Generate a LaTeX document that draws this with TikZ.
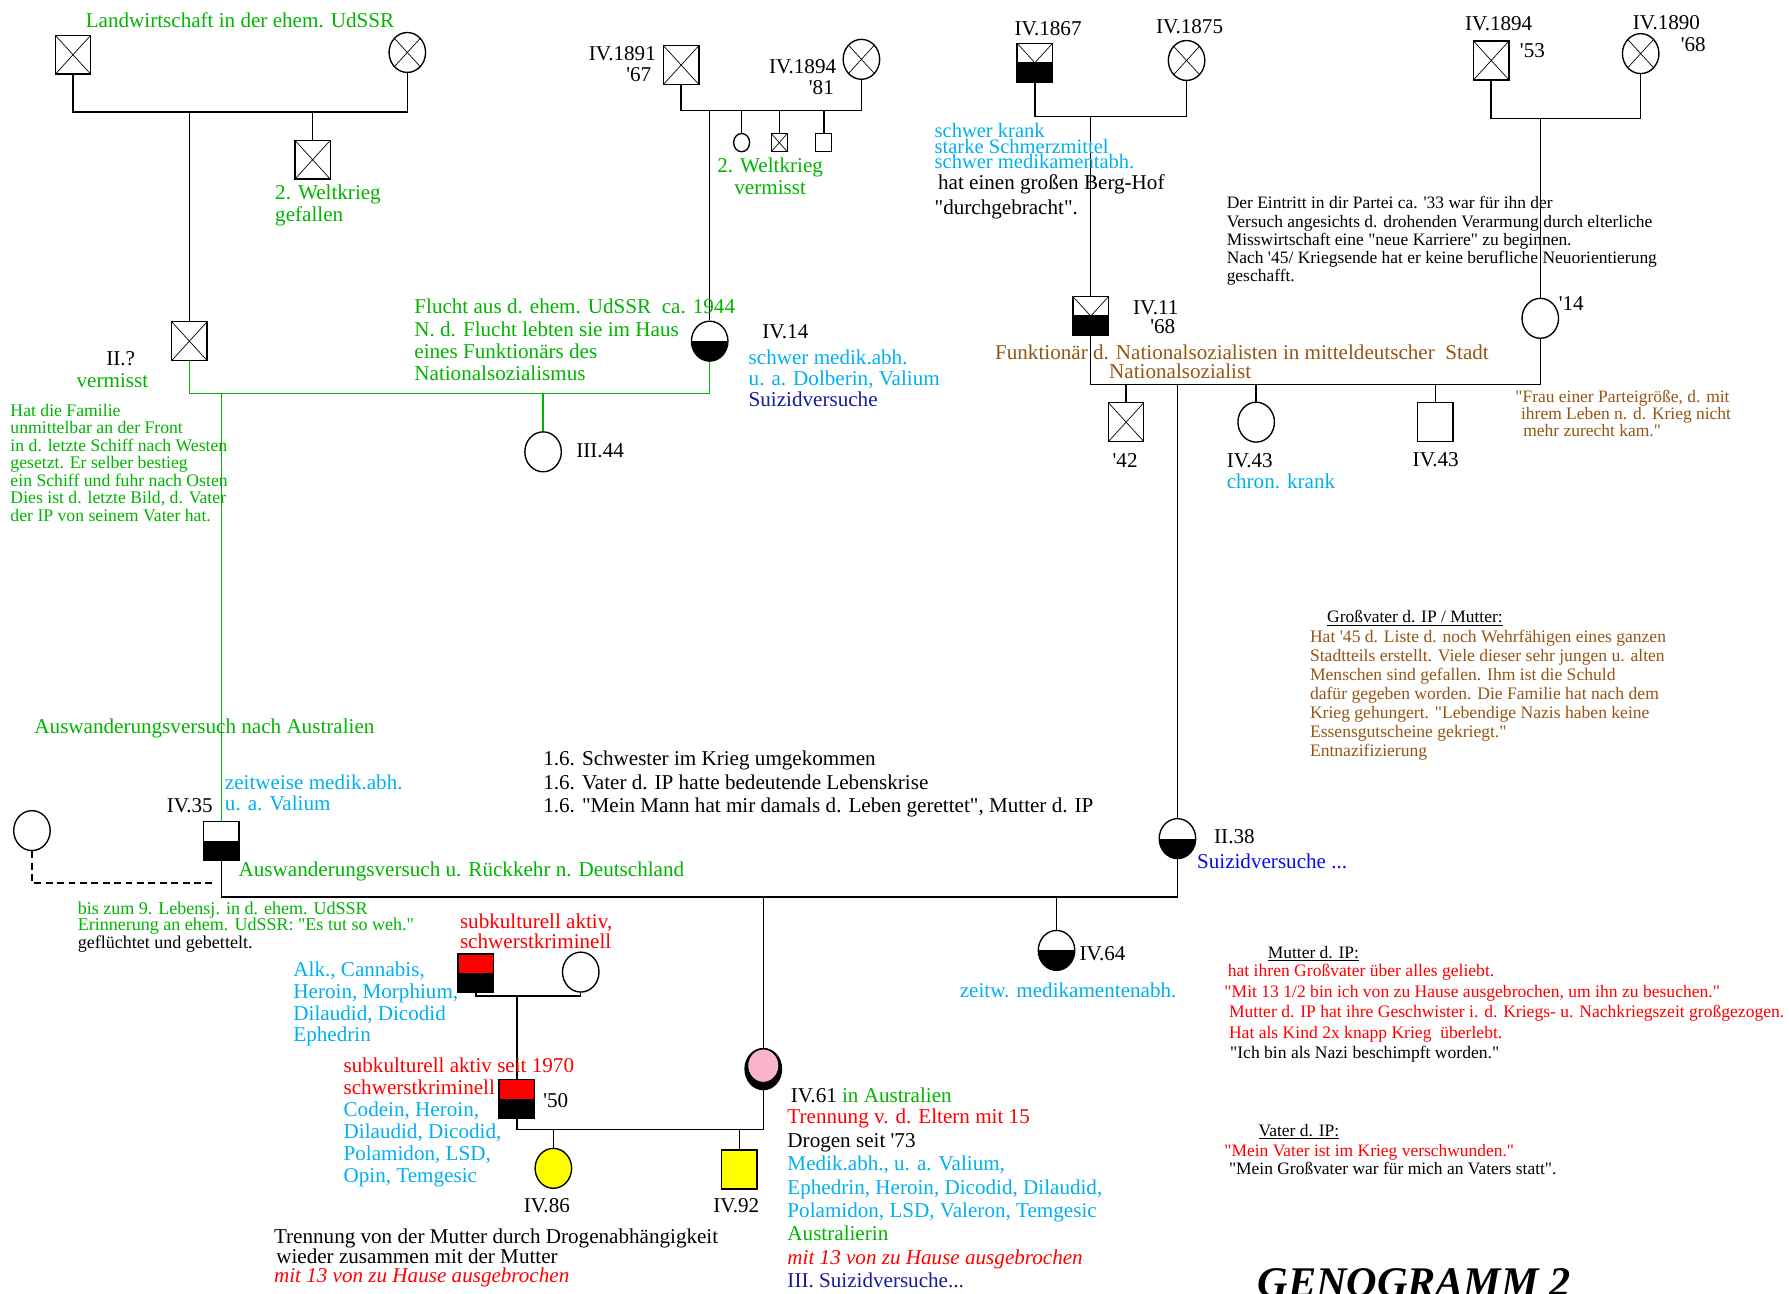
\documentclass[tikz,border=0pt]{standalone}
\usepackage{fontspec}
\setmainfont{Liberation Serif}[Ligatures=TeXOff]
\usetikzlibrary{shapes.geometric}

\definecolor{gruen}{RGB}{0,180,0}
\definecolor{hblau}{RGB}{0,176,240}
\definecolor{dblau}{RGB}{25,25,160}
\definecolor{blau}{RGB}{10,10,235}
\definecolor{braun}{RGB}{150,85,20}
\definecolor{rosa}{RGB}{250,180,205}
\definecolor{gelb}{RGB}{255,255,0}

\tikzset{
  person/.style={draw=black, line width=1.2pt, inner sep=0pt},
  mann/.style={person, rectangle, minimum width=31pt, minimum height=34pt},
  frau/.style={person, ellipse, minimum width=32pt, minimum height=35pt},
  klein/.style={minimum width=14pt, minimum height=16pt},
  tot/.style={path picture={
      \draw[line width=0.6pt] (path picture bounding box.north west) -- (path picture bounding box.south east)
        (path picture bounding box.north east) -- (path picture bounding box.south west);}},
  halb/.style={path picture={
      \fill (path picture bounding box.west) rectangle (path picture bounding box.south east);}},
  tothalb/.style={path picture={
      \draw[line width=0.6pt] (path picture bounding box.north west) -- (path picture bounding box.south east)
        (path picture bounding box.north east) -- (path picture bounding box.south west);
      \fill ([yshift=1pt]path picture bounding box.west) rectangle (path picture bounding box.south east);}},
  rotschwarz/.style={path picture={
      \fill[red] (path picture bounding box.north west) rectangle (path picture bounding box.east);
      \fill (path picture bounding box.west) rectangle (path picture bounding box.south east);}},
  linie/.style={line width=1.3pt},
  gruenlinie/.style={line width=1.3pt, gruen},
  lbl/.style={inner sep=0pt, anchor=base west, font=\fontsize{18.5}{19}\selectfont},
  blk/.style={inner sep=0pt, anchor=north west, align=left, font=\fontsize{18.5}{19.5}\selectfont},
  notiz/.style={inner sep=0pt, anchor=north west, align=left, font=\fontsize{15.3}{16}\selectfont},
}

\begin{document}
\begin{tikzpicture}[x=1pt,y=-1pt]
\useasboundingbox[fill=white] (0,0) rectangle (1568,1134);

% Generation oben links
\node[mann,tot] (gvA) at (64,48) {};
\node[frau,tot] (gmA) at (357,46) {};
\node[mann,tot] (onkel) at (274,140) {};
\node[mann,tot] (vaterIP) at (166,299) {};
\coordinate (ehA) at (166,98);
\coordinate (kA) at (274,98);
\draw[linie] (gvA.south) |- (ehA) -| (gmA.south);
\draw[linie] (ehA) -- (vaterIP.north);
\draw[linie] (kA) -- (onkel.north);

% IV.1891 / IV.1894
\node[mann,tot] (gvB) at (597,57) {};
\node[frau,tot] (gmB) at (755,52) {};
\node[frau,halb] (iv14) at (622,299) {};
\node[person,ellipse,klein] (kB1) at (650,125) {};
\node[person,rectangle,klein,tot] (kB2) at (683,125) {};
\node[person,rectangle,klein] (kB3) at (722,125) {};
\coordinate (ehB) at (622,97);
\draw[linie] (gvB.south) |- (ehB) -| (gmB.south);
\draw[linie] (ehB) -- (iv14.north);
\foreach \k in {kB1,kB2,kB3}
  \draw[linie] (\k.north) -- (\k.north |- ehB);

% Ehe II.? / IV.14
\node[frau] (iii44) at (476,396) {};
\node[mann,halb] (iv35) at (194,737) {};
\coordinate (ehC) at (194,345);
\draw[gruenlinie] (vaterIP.south) |- (ehC) -| (iv14.south);
\draw[gruenlinie] (ehC) -- (iv35.north);
\draw[gruenlinie] (iii44.north) -- (iii44.north |- ehC);

% IV.1867 / IV.1875
\node[mann,tothalb] (gvD) at (907,55) {};
\node[frau,tot] (gmD) at (1040,53) {};
\node[mann,tothalb] (iv11) at (956,277) {};
\coordinate (ehD) at (956,102);
\draw[linie] (gvD.south) |- (ehD) -| (gmD.south);
\draw[linie] (ehD) -- (iv11.north);

% IV.1894 / IV.1890
\node[mann,tot] (gvE) at (1307,53) {};
\node[frau,tot] (gmE) at (1438,47) {};
\node[frau] (fr14) at (1350,279) {};
\coordinate (ehE) at (1350,104);
\draw[linie] (gvE.south) |- (ehE) -| (gmE.south);
\draw[linie] (ehE) -- (fr14.north);

% Ehe IV.11 / '14
\node[mann,tot] (k42) at (987,370) {};
\node[frau] (k43a) at (1101,370) {};
\node[mann] (k43b) at (1258,370) {};
\node[frau,halb] (ii38) at (1032,735) {};
\coordinate (ehF) at (1032,337);
\draw[linie] (iv11.south) |- (ehF) -| (fr14.south);
\draw[linie] (ehF) -- (ii38.north);
\foreach \k in {k42,k43a,k43b}
  \draw[linie] (\k.north) -- (\k.north |- ehF);

% Ehe IV.35 / II.38
\node[frau] (exfrau) at (28,728) {};
\coordinate (exende) at (188,774);
\draw[line width=1.2pt,dash pattern=on 6pt off 4pt] (exfrau.south) |- (exende);
\node[frau,halb] (iv64) at (926,833) {};
\node[person,ellipse,fill=black,minimum width=32pt,minimum height=36pt] (iv61) at (669,937) {};
\node[draw=black,line width=0.6pt,ellipse,fill=rosa,inner sep=0pt,minimum width=27pt,minimum height=29pt] (iv61i) at (669,934) {};
\coordinate (ehG) at (669,786);
\draw[linie] (iv35.south) |- (ehG) -| (ii38.south);
\draw[linie] (ehG) -- (iv61.north);
\draw[linie] (iv64.north) -- (iv64.north |- ehG);

% subkulturell
\node[mann,rotschwarz] (sub1) at (417,853) {};
\node[frau] (sub1f) at (509,852) {};
\node[mann,rotschwarz] (sub2) at (453,963) {};
\coordinate (ehH) at (453,873);
\draw[linie] (sub1.south) |- (ehH) -| (sub1f.south);
\draw[linie] (ehH) -- (sub2.north);
\node[frau,fill=gelb] (iv86) at (485,1024) {};
\node[mann,fill=gelb] (iv92) at (648,1025) {};
\coordinate (ehI) at (485,990);
\draw[linie] (sub2.south) |- (ehI) -| (iv61.south);
\draw[linie] (ehI) -- (iv86.north);
\draw[linie] (iv92.north) -- (iv92.north |- ehI);

% Beschriftungen
\node[lbl,gruen] (tLand) at (75,24) {Landwirtschaft in der ehem. UdSSR};
\node[blk,gruen,font=\fontsize{18.5}{19}\selectfont] (tWk1) at (241,162) {2. Weltkrieg\\ gefallen};
\node[lbl] (tII) at (93,320) {II.?};
\node[lbl,gruen] (tVerm) at (67,340) {vermisst};
\node[notiz,gruen,font=\fontsize{15.5}{15.3}\selectfont] (tFam) at (9,354) {Hat die Familie\\unmittelbar an der Front\\in d. letzte Schiff nach Westen\\gesetzt. Er selber bestieg\\ein Schiff und fuhr nach Osten\\Dies ist d. letzte Bild, d. Vater\\der IP von seinem Vater hat.};

\node[lbl,anchor=base east] (t1891) at (575,53) {IV.1891};
\node[lbl,anchor=base east] (t67) at (571,71) {'67};
\node[lbl,anchor=base east] (t1894) at (733,64) {IV.1894};
\node[lbl,anchor=base east] (t81) at (731,83) {'81};
\node[blk,gruen,anchor=north,align=center,font=\fontsize{18.5}{19}\selectfont] (tWk2) at (675,138) {2. Weltkrieg\\ vermisst};
\node[blk,gruen] (tFlucht) at (363,262) {Flucht aus d. ehem. UdSSR~~ca. 1944\\N. d. Flucht lebten sie im Haus\\eines Funktionärs des\\Nationalsozialismus};
\node[lbl] (tiv14) at (668,297) {IV.14};
\node[blk,hblau,font=\fontsize{18.5}{18.5}\selectfont] (tiv14b) at (656,306) {schwer medik.abh.\\u. a. Dolberin, Valium\\\textcolor{dblau}{Suizidversuche}};
\node[lbl] (tiii44) at (505,401) {III.44};

\node[lbl] (t1867) at (889,31) {IV.1867};
\node[lbl] (t1875) at (1013,29) {IV.1875};
\node[blk,hblau,font=\fontsize{18}{12}\selectfont] (tkrank) at (819,108) {schwer krank\\starke Schmerzmittel\\schwer medikamentabh.};
\node[lbl] (tBerg) at (822,166) {hat einen großen Berg-Hof};
\node[lbl] (tdurch) at (819,188) {"durchgebracht".};
\node[lbl] (tiv11) at (993,276) {IV.11};
\node[lbl] (t68a) at (1008,292) {'68};
\node[lbl,braun] (tFunk) at (872,315) {Funktionär d. Nationalsozialisten in mitteldeutscher~~Stadt};
\node[lbl,braun] (tNS) at (972,332) {Nationalsozialist};

\node[lbl] (t1894b) at (1284,27) {IV.1894};
\node[lbl] (t53) at (1332,50) {'53};
\node[lbl] (t1890) at (1431,26) {IV.1890};
\node[lbl] (t68b) at (1473,45) {'68};
\node[notiz] (tPartei) at (1075,172) {Der Eintritt in dir Partei ca. '33 war für ihn der\\Versuch angesichts d. drohenden Verarmung durch elterliche\\Misswirtschaft eine "neue Karriere" zu beginnen.\\Nach '45/ Kriegsende hat er keine berufliche Neuorientierung\\geschafft.};
\node[lbl] (t14) at (1366,272) {'14};
\node[notiz,braun,font=\fontsize{15.3}{13}\selectfont] (tFrau) at (1328,342) {"Frau einer Parteigröße, d. mit\\\hspace*{5pt}ihrem Leben n. d. Krieg nicht\\\hspace*{7pt}mehr zurecht kam."};
\node[lbl] (t42) at (975,410) {'42};
\node[lbl] (t43a) at (1075,410) {IV.43};
\node[lbl,hblau] (tchron) at (1075,428) {chron. krank};
\node[lbl] (t43b) at (1238,409) {IV.43};

\node[lbl,font=\fontsize{15.3}{16}\selectfont] (tGvH) at (1163,546) {\underline{Großvater d. IP / Mutter:}};
\node[notiz,braun,font=\fontsize{15.4}{16.7}\selectfont] (tGv) at (1148,552) {Hat '45 d. Liste d. noch Wehrfähigen eines ganzen\\Stadtteils erstellt. Viele dieser sehr jungen u. alten\\Menschen sind gefallen. Ihm ist die Schuld\\dafür gegeben worden. Die Familie hat nach dem\\Krieg gehungert. "Lebendige Nazis haben keine\\Essensgutscheine gekriegt."\\Entnazifizierung};

\node[lbl,gruen] (tAus1) at (30,643) {Auswanderungsversuch nach Australien};
\node[blk,font=\fontsize{18.5}{20.5}\selectfont] (t16) at (476,658) {1.6. Schwester im Krieg umgekommen\\1.6. Vater d. IP hatte bedeutende Lebenskrise\\1.6. "Mein Mann hat mir damals d. Leben gerettet", Mutter d. IP};
\node[lbl] (tiv35) at (146,712) {IV.35};
\node[blk,hblau,font=\fontsize{18.5}{18}\selectfont] (tiv35b) at (197,679) {zeitweise medik.abh.\\u. a. Valium};
\node[lbl,gruen] (tAus2) at (209,768) {Auswanderungsversuch u. Rückkehr n. Deutschland};
\node[lbl] (tii38) at (1064,739) {II.38};
\node[lbl,blau] (tii38b) at (1049,761) {Suizidversuche ...};
\node[notiz,gruen,font=\fontsize{15.8}{14.5}\selectfont] (tbis) at (68,790) {bis zum 9. Lebensj. in d. ehem. UdSSR\\Erinnerung an ehem. UdSSR: "Es tut so weh."\\\textcolor{black}{geflüchtet und gebettelt.}};

\node[blk,red,font=\fontsize{18.5}{17}\selectfont] (tsub1) at (403,801) {subkulturell aktiv,\\schwerstkriminell};
\node[blk,hblau,font=\fontsize{18.5}{19}\selectfont] (tAlk) at (257,843) {Alk., Cannabis,\\Heroin, Morphium,\\Dilaudid, Dicodid\\Ephedrin};
\node[lbl] (tiv64) at (946,842) {IV.64};
\node[lbl,hblau] (tiv64b) at (841,874) {zeitw. medikamentenabh.};

\node[blk,hblau,font=\fontsize{18.5}{19.2}\selectfont] (tsub2) at (301,927) {\textcolor{red}{subkulturell aktiv seit 1970}\\\textcolor{red}{schwerstkriminell}\\Codein, Heroin,\\Dilaudid, Dicodid,\\Polamidon, LSD,\\Opin, Temgesic};
\node[lbl] (t50) at (476,971) {'50};
\node[lbl] (tiv61) at (693,966) {IV.61 \textcolor{gruen}{in Australien}};
\node[blk,font=\fontsize{18.5}{20.5}\selectfont] (tiv61b) at (690,972) {\textcolor{red}{Trennung v. d. Eltern mit 15}\\Drogen seit '73\\\textcolor{hblau}{Medik.abh., u. a. Valium,}\\\textcolor{hblau}{Ephedrin, Heroin, Dicodid, Dilaudid,}\\\textcolor{hblau}{Polamidon, LSD, Valeron, Temgesic}\\\textcolor{gruen}{Australierin}\\\textcolor{red}{\itshape mit 13 von zu Hause ausgebrochen}\\\textcolor{dblau}{III. Suizidversuche...}};
\node[lbl] (tiv86) at (459,1063) {IV.86};
\node[lbl] (tiv92) at (625,1063) {IV.92};
\node[blk,font=\fontsize{18.5}{17}\selectfont] (tTrenn) at (240,1077) {Trennung von der Mutter durch Drogenabhängigkeit\\\hspace*{2pt}wieder zusammen mit der Mutter\\\textcolor{red}{\itshape mit 13 von zu Hause ausgebrochen}};

\node[lbl,font=\fontsize{15.3}{16}\selectfont] (tMuH) at (1111,840) {\underline{Mutter d. IP:}};
\node[notiz,red,font=\fontsize{15.4}{18}\selectfont] (tMu) at (1073,845) {\hspace*{3pt}hat ihren Großvater über alles geliebt.\\"Mit 13 1/2 bin ich von zu Hause ausgebrochen, um ihn zu besuchen."\\\hspace*{4pt}Mutter d. IP hat ihre Geschwister i. d. Kriegs- u. Nachkriegszeit großgezogen.\\\hspace*{4pt}Hat als Kind 2x knapp Krieg~~überlebt.\\\hspace*{5pt}\textcolor{black}{"Ich bin als Nazi beschimpft worden."}};
\node[lbl,font=\fontsize{15.3}{16}\selectfont] (tVaH) at (1103,996) {\underline{Vater d. IP:}};
\node[notiz,red] (tVa) at (1073,1003) {"Mein Vater ist im Krieg verschwunden."\\\hspace*{4pt}\textcolor{black}{"Mein Großvater war für mich an Vaters statt".}};

\node[lbl,font=\fontsize{37}{40}\bfseries\itshape] (tTitel) at (1102,1136) {GENOGRAMM 2};
\end{tikzpicture}
\end{document}
